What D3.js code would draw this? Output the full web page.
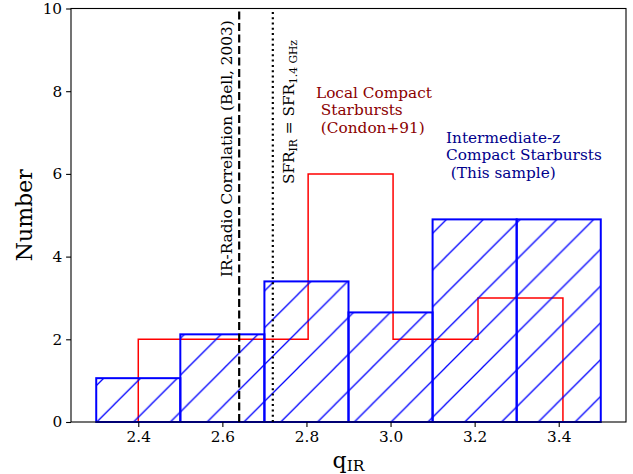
<!DOCTYPE html>
<html><head><meta charset="utf-8">
<script src="https://cdn.jsdelivr.net/npm/d3@7"></script>
<style>body{margin:0;background:#fff}svg{display:block}</style>
</head><body><svg id="c" width="633" height="474"></svg>
<script>
// Data
const blueEdges = [2.3, 2.5, 2.7, 2.9, 3.1, 3.3, 3.5];
const blueCounts = [1.06, 2.12, 3.40, 2.65, 4.90, 4.90];
const redEdges = [2.4, 2.602, 2.804, 3.006, 3.208, 3.41];
const redCounts = [2, 2, 6, 2, 3];
const xTicks = [2.4, 2.6, 2.8, 3.0, 3.2, 3.4];
const yTicks = [0, 2, 4, 6, 8, 10];
const bellLine = 2.64;
const sfrLine = 2.72;

const FONT = "'DejaVu Serif', serif";
const FS = 15.3, LFS = 22;
const svg = d3.select("#c").style("font-family", FONT);
const L = 71, R = 626, T = 8.5, B = 422;
const x = d3.scaleLinear().domain([2.24, 3.56]).range([L, R]);
const y = d3.scaleLinear().domain([0, 10]).range([B, T]);

// hatch pattern
const s = 36.8;
const defs = svg.append("defs");
const pat = defs.append("pattern").attr("id", "hatch").attr("patternUnits", "userSpaceOnUse")
  .attr("x", 3.5).attr("y", 0).attr("width", s).attr("height", s);
pat.append("path").attr("d", `M0,${s} L${s},0 M${-2},2 L2,-2 M${s-2},${s+2} L${s+2},${s-2}`)
  .attr("stroke", "blue").attr("stroke-width", 1.3).attr("fill", "none");

// red step histogram
const redPts = [[redEdges[0], 0]];
redCounts.forEach((c, i) => { redPts.push([redEdges[i], c]); redPts.push([redEdges[i + 1], c]); });
redPts.push([redEdges[redEdges.length - 1], 0]);
svg.append("path").attr("d", d3.line().x(d => x(d[0])).y(d => y(d[1]))(redPts))
  .attr("fill", "none").attr("stroke", "red").attr("stroke-width", 1.5);

// blue hatched bars
blueCounts.forEach((c, i) => {
  svg.append("rect").attr("x", x(blueEdges[i])).attr("width", x(blueEdges[i + 1]) - x(blueEdges[i]))
    .attr("y", y(c)).attr("height", y(0) - y(c))
    .attr("fill", "url(#hatch)").attr("stroke", "blue").attr("stroke-width", 2);
});

// vertical lines
svg.append("line").attr("x1", x(bellLine)).attr("x2", x(bellLine)).attr("y1", y(0)).attr("y2", y(10))
  .attr("stroke", "black").attr("stroke-width", 2.2).attr("stroke-dasharray", "8,3.5");
svg.append("line").attr("x1", x(sfrLine)).attr("x2", x(sfrLine)).attr("y1", y(0)).attr("y2", y(10))
  .attr("stroke", "black").attr("stroke-width", 2.2).attr("stroke-dasharray", "2,3.3");

// frame
svg.append("rect").attr("x", L).attr("y", T).attr("width", R - L).attr("height", B - T)
  .attr("fill", "none").attr("stroke", "black").attr("stroke-width", 1.1);

// axes
const xa = svg.append("g").attr("transform", `translate(0,${B})`)
  .call(d3.axisBottom(x).tickValues(xTicks).tickFormat(d3.format(".1f")).tickSize(4.9).tickPadding(4));
const ya = svg.append("g").attr("transform", `translate(${L},0)`)
  .call(d3.axisLeft(y).tickValues(yTicks).tickFormat(d3.format("d")).tickSize(4.9).tickPadding(4));
[xa, ya].forEach(g => {
  g.attr("font-family", null).attr("font-size", null);
  g.select(".domain").remove();
  g.selectAll("line").attr("stroke", "black").attr("stroke-width", 1.1);
  g.selectAll("text").style("font-family", FONT).attr("font-size", FS).attr("fill", "black");
});

// axis labels
const xl = svg.append("text").attr("x", (L + R) / 2).attr("y", 468).attr("text-anchor", "middle")
  .attr("font-size", LFS).style("font-family", FONT);
xl.append("tspan").text("q");
xl.append("tspan").attr("font-size", 15.5).attr("dy", 3).text("IR");
svg.append("text").attr("transform", `translate(32,${(T + B) / 2}) rotate(-90)`).attr("text-anchor", "middle")
  .attr("font-size", LFS).style("font-family", FONT).text("Number");

// rotated annotations
svg.append("text").attr("transform", `translate(232,277) rotate(-90)`).attr("font-size", FS)
  .style("font-family", FONT).text("IR-Radio Correlation (Bell, 2003)");
const st = svg.append("text").attr("transform", `translate(294,184) rotate(-90)`).attr("font-size", FS)
  .style("font-family", FONT).style("white-space", "pre");
st.append("tspan").text("SFR");
st.append("tspan").attr("font-size", 10.7).attr("dy", 2.7).text("IR");
st.append("tspan").attr("dy", -2.7).text(" = SFR");
st.append("tspan").attr("font-size", 10.7).attr("dy", 2.7).text("1.4 GHz");

// text annotations
const redLines = ["Local Compact", " Starbursts", " (Condon+91)"];
const rt = svg.append("text").attr("font-size", FS).attr("fill", "#8b0000")
  .style("white-space", "pre").style("font-family", FONT);
redLines.forEach((t, i) => rt.append("tspan").attr("x", 316).attr("y", 98 + i * 17.3).text(t));
const blueLines = ["Intermediate-z", "Compact Starbursts", " (This sample)"];
const bt = svg.append("text").attr("font-size", FS).attr("fill", "#00008b")
  .style("white-space", "pre").style("font-family", FONT);
blueLines.forEach((t, i) => bt.append("tspan").attr("x", 446).attr("y", 143.3 + i * 17.1).text(t));
</script></body></html>
